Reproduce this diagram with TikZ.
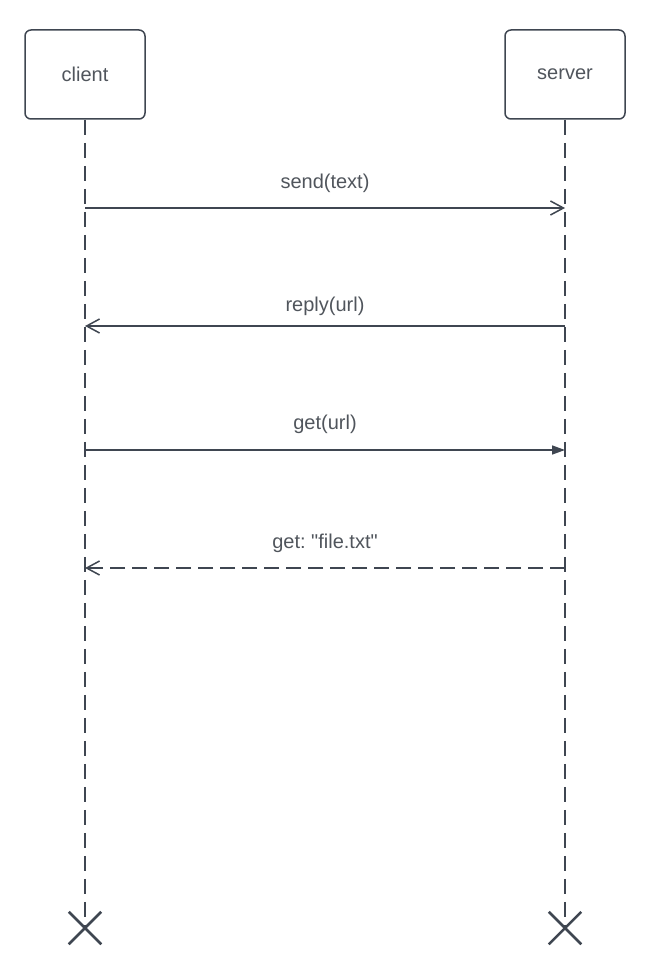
\documentclass[tikz,border=0pt]{standalone}
\usepackage{fontspec}
\setmainfont{Liberation Sans}
\newfontfamily\labelfont{Liberation Sans}
\usetikzlibrary{arrows.meta,positioning,shapes.misc}
\definecolor{umlline}{HTML}{3F4651}
\definecolor{umltext}{HTML}{50555C}
\frenchspacing

\begin{document}
\begin{tikzpicture}[
    x=1pt, y=-1pt,
    font=\labelfont\fontsize{20}{24}\selectfont,
    participant/.style={draw=umlline, line width=1.5pt, rounded corners=6pt,
        minimum width=120pt, minimum height=89pt, inner sep=0pt, text=umltext},
    lifeline/.style={draw=umlline, line width=1.5pt, dash pattern=on 15pt off 8pt},
    endmark/.style={cross out, draw=umlline, line width=2.5pt,
        minimum size=30pt, inner sep=0pt},
    msg/.style={draw=umlline, line width=1.5pt, -{Straight Barb[length=13pt, width=14pt]}},
    call/.style={draw=umlline, line width=1.5pt, -{Triangle[length=13pt, width=9pt]}},
    back/.style={msg, dash pattern=on 15pt off 7pt},
    msglabel/.style={text=umltext, inner sep=0pt}
]
    \useasboundingbox (0,0) rectangle (650,971);

    % participants
    \node[participant] (client) at (85,74.5) {client};
    \node[participant] (server) at (565,74.5) {server};

    % end marks
    \node[endmark] (clientend) at (85,928) {};
    \node[endmark] (serverend) at (565,928) {};

    % lifelines
    \draw[lifeline] (client.south) -- (clientend.center);
    \draw[lifeline] (server.south) -- (serverend.center);

    % message points
    \coordinate (c1) at (85,208);  \coordinate (s1) at (565,208);
    \coordinate (c2) at (85,326);  \coordinate (s2) at (565,326);
    \coordinate (c3) at (85,450);  \coordinate (s3) at (565,450);
    \coordinate (c4) at (85,568);  \coordinate (s4) at (565,568);

    % messages
    \draw[msg] (c1) -- (s1);
    \node[msglabel] (send) at (325,183) {send(text)};

    \draw[msg] (s2) -- (c2);
    \node[msglabel] (reply) at (325,306) {reply(url)};

    \draw[call] (c3) -- (s3);
    \node[msglabel] (get) at (325,424) {get(url)};

    \draw[back] (s4) -- (c4);
    \node[msglabel] (file) at (325,543) {get: "file.txt"};
\end{tikzpicture}
\end{document}
